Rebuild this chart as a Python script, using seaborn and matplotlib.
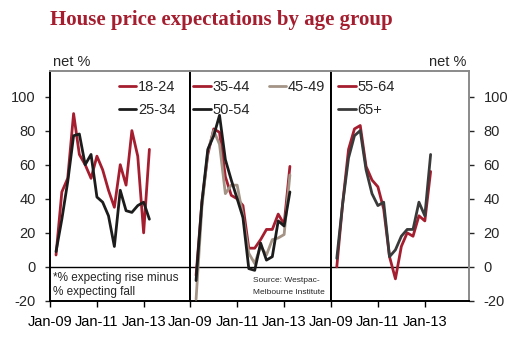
import matplotlib
matplotlib.use("Agg")
import matplotlib.pyplot as plt
import matplotlib.dates as mdates
import numpy as np
import pandas as pd
import seaborn as sns
from datetime import datetime

sns.set_theme(style="white")
plt.rcParams['font.family'] = ['Liberation Sans', 'DejaVu Sans']
plt.rcParams['axes.unicode_minus'] = False

# ---------------- data ----------------
dates = ['2009-04-01', '2009-07-01', '2009-10-01', '2010-01-01', '2010-04-01',
         '2010-07-01', '2010-10-01', '2011-01-01', '2011-04-01', '2011-07-01',
         '2011-10-01', '2012-01-01', '2012-04-01', '2012-07-01', '2012-10-01',
         '2013-01-01', '2013-04-01']

age_18_24 = [7, 44, 52, 90, 66, 60, 52, 65, 57, 45, 35, 60, 48, 80, 65, 20, 69]
age_25_34 = [9, 28, 50, 77, 78, 60, 66, 41, 38, 30, 12, 45, 33, 32, 36, 38, 28]
age_35_44 = [-5, 38, 66, 81, 79, 53, 42, 40, 36, 11, 11, 16, 22, 22, 31, 25, 59]
age_45_49 = [-19, 35, 68, 80, 72, 43, 48, 48, 30, 8, 2, 12, 7, 16, 17, 19, 54]
age_50_54 = [-8, 38, 69, 77, 89, 63, 51, 40, 29, -1, -2, 14, 4, 6, 27, 24, 44]
age_55_64 = [0, 37, 69, 81, 83, 59, 51, 47, 34, 6, -7, 12, 20, 18, 30, 27, 56]
age_65_plus = [5, 37, 64, 77, 80, 57, 43, 36, 38, 6, 10, 18, 22, 22, 38, 30, 66]

panel1 = {'18-24': age_18_24, '25-34': age_25_34}
panel2 = {'35-44': age_35_44, '45-49': age_45_49, '50-54': age_50_54}
panel3 = {'55-64': age_55_64, '65+': age_65_plus}

x_tick_dates = ['2009-01-01', '2011-01-01', '2013-01-01']
y_ticks = [-20, 0, 20, 40, 60, 80, 100]

RED = '#A51E2F'
BLK = '#1c1c1c'
DGRY = '#3a3a3a'
TAN = '#A39486'
palette = {'18-24': RED, '25-34': BLK, '35-44': RED, '45-49': TAN,
           '50-54': BLK, '55-64': RED, '65+': DGRY}

def long_df(d):
    rows = []
    for k, v in d.items():
        rows.append(pd.DataFrame({'date': pd.to_datetime(dates), 'value': v, 'group': k}))
    return pd.concat(rows, ignore_index=True)

# ---------------- figure ----------------
fig = plt.figure(figsize=(5.14, 3.38), dpi=100)
gs = fig.add_gridspec(1, 3, left=0.0978, right=0.9125, top=0.79, bottom=0.1095,
                      wspace=0, width_ratios=[140, 140.7, 138])
axes = [fig.add_subplot(gs[0, i]) for i in range(3)]

FS = 10.5
xticks = pd.to_datetime(x_tick_dates)
xends = [datetime(2015, 1, 1), datetime(2015, 1, 1), datetime(2014, 11, 20)]

for i, (ax, pdata) in enumerate(zip(axes, [panel1, panel2, panel3])):
    df = long_df(pdata)
    ax.axhline(0, color='black', lw=1.0, zorder=1)
    sns.lineplot(data=df, x='date', y='value', hue='group', palette=palette,
                 linewidth=2.0, ax=ax, zorder=3)
    ax.set_xlim(datetime(2009, 1, 1), xends[i])
    ax.set_ylim(-20, 115)
    ax.set_xlabel('')
    ax.set_ylabel('')
    ax.set_xticks(xticks)
    ax.xaxis.set_major_formatter(mdates.DateFormatter('%b-%y'))
    ax.tick_params(axis='x', direction='out', length=4, width=1, pad=6,
                   labelsize=FS, colors='black', bottom=True)
    ax.set_yticks(y_ticks)
    for side in ['top', 'bottom', 'left', 'right']:
        ax.spines[side].set_linewidth(1.4)
        ax.spines[side].set_color('black')
    ax.spines['top'].set_color('#8a8a8a')
    if i == 0:
        ax.tick_params(axis='y', direction='out', length=3.5, width=1, pad=7,
                       labelsize=FS, left=True, right=False, labelleft=True,
                       labelright=False)
    elif i == 2:
        ax.spines['right'].set_color('#8a8a8a')
        ax.tick_params(axis='y', direction='out', length=3.5, width=1, pad=7,
                       labelsize=FS, left=False, right=True, labelleft=False,
                       labelright=True)
    else:
        ax.tick_params(axis='y', left=False, right=False, labelleft=False,
                       labelright=False)
    ax.set_facecolor('white')

# legends
leg_kw = dict(frameon=False, fontsize=FS, handlelength=1.2, handletextpad=0.1,
              borderaxespad=0, borderpad=0.2, labelspacing=0.62)
h, l = axes[0].get_legend_handles_labels()
axes[0].legend(h, l, loc='upper left', bbox_to_anchor=(0.47, 0.975), **leg_kw)
h, l = axes[1].get_legend_handles_labels()
order = [l.index('35-44'), l.index('50-54'), l.index('45-49')]
axes[1].legend([h[k] for k in order], [l[k] for k in order], loc='upper left',
               bbox_to_anchor=(0.0, 0.975), ncol=2, columnspacing=1.3, **leg_kw)
h, l = axes[2].get_legend_handles_labels()
axes[2].legend(h, l, loc='upper left', bbox_to_anchor=(0.03, 0.975), **leg_kw)

# annotations
axes[0].text(0.02, 0.10, '*% expecting rise minus', transform=axes[0].transAxes,
             fontsize=8.5, va='center', ha='left')
axes[0].text(0.02, 0.04, '% expecting fall', transform=axes[0].transAxes,
             fontsize=8.5, va='center', ha='left')
axes[1].text(0.445, 0.087, 'Source: Westpac-', transform=axes[1].transAxes,
             fontsize=6, va='center', ha='left')
axes[1].text(0.445, 0.038, 'Melbourne Institute', transform=axes[1].transAxes,
             fontsize=6, va='center', ha='left')

fig.text(50 / 514, 1 - 25 / 338, 'House price expectations by age group',
         fontsize=15, fontweight='bold', color=RED, va='baseline', ha='left',
         family=['Liberation Serif', 'DejaVu Serif'])
fig.text(53 / 514, 1 - 66 / 338, 'net %', fontsize=FS, va='baseline', ha='left')
fig.text(466 / 514, 1 - 66 / 338, 'net %', fontsize=FS, va='baseline', ha='right')

fig.savefig('out.png', dpi=100, facecolor='white')
